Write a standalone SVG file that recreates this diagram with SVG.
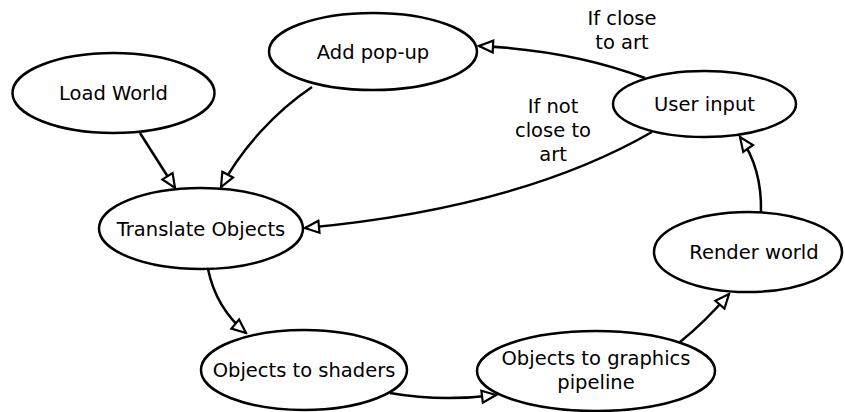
<svg xmlns="http://www.w3.org/2000/svg" width="845" height="412" viewBox="0 0 845 412">
  <style>
    .node ellipse { fill: #ffffff; stroke: #000000; stroke-width: 2.5; }
    .node text, .label { font-family: "DejaVu Sans", sans-serif; font-size: 19.5px; fill: #000000; text-anchor: middle; }
    .edge { fill: none; stroke: #000000; stroke-width: 2.5; marker-end: url(#open-arrow); }
  </style>
  <defs>
    <marker id="open-arrow" markerUnits="userSpaceOnUse" markerWidth="18" markerHeight="16" viewBox="-2 -2 18 16" refX="14" refY="6" orient="auto">
      <path d="M0,0 L14,6 L0,12 Z" fill="#ffffff" stroke="#000000" stroke-width="2.2" stroke-linejoin="miter"/>
    </marker>
  </defs>

  <g id="connectors">
    <path class="edge" d="M140,133 L175,188"/>
    <path class="edge" d="M312,87 C275,112 242,148 221,187"/>
    <path class="edge" d="M645,78 Q570,50 479,46"/>
    <path class="edge" d="M652,132 Q520,208 305,228"/>
    <path class="edge" d="M208,269 Q216,308 246,333"/>
    <path class="edge" d="M390,393 Q440,402 496,395"/>
    <path class="edge" d="M680,342 Q705,322 729,294"/>
    <path class="edge" d="M761,212 Q762,168 740,137"/>
    <text class="label" x="622" y="25">If close</text>
    <text class="label" x="622" y="49">to art</text>
    <text class="label" x="553" y="113">If not</text>
    <text class="label" x="553" y="137">close to</text>
    <text class="label" x="553" y="161">art</text>
  </g>

  <g id="load-world" class="node">
    <ellipse cx="113.5" cy="93" rx="101" ry="40"/>
    <text x="113.5" y="100">Load World</text>
  </g>
  <g id="add-popup" class="node">
    <ellipse cx="373" cy="51.5" rx="104" ry="38.5"/>
    <text x="373" y="58.5">Add pop-up</text>
  </g>
  <g id="user-input" class="node">
    <ellipse cx="704.5" cy="104" rx="91.5" ry="33"/>
    <text x="704.5" y="111">User input</text>
  </g>
  <g id="translate-objects" class="node">
    <ellipse cx="201" cy="228.5" rx="102" ry="40.5"/>
    <text x="201" y="235.5">Translate Objects</text>
  </g>
  <g id="render-world" class="node">
    <ellipse cx="748" cy="252" rx="94" ry="40"/>
    <text x="754" y="259">Render world</text>
  </g>
  <g id="objects-to-shaders" class="node">
    <ellipse cx="304" cy="370" rx="103" ry="40"/>
    <text x="304" y="377">Objects to shaders</text>
  </g>
  <g id="objects-to-pipeline" class="node">
    <ellipse cx="596" cy="371" rx="119" ry="40"/>
    <text x="596" y="365">Objects to graphics</text>
    <text x="596" y="389">pipeline</text>
  </g>
</svg>
